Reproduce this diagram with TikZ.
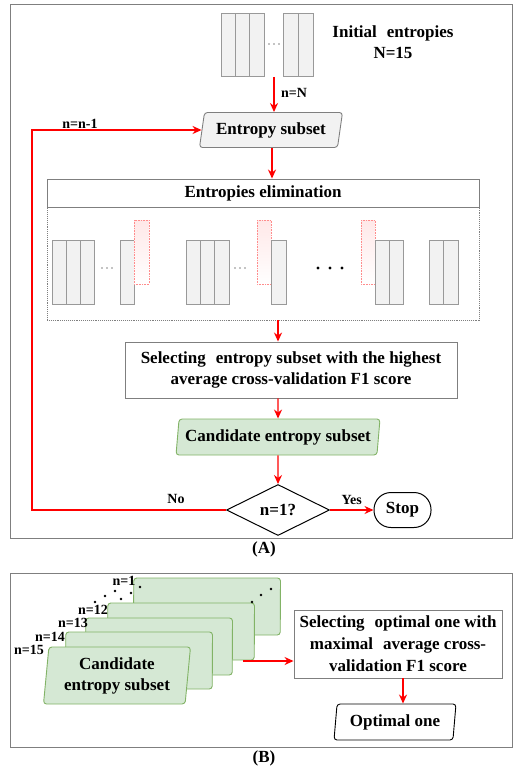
\documentclass[tikz,border=0pt]{standalone}
\usepackage{fontspec}
\setmainfont{Liberation Serif}
\usetikzlibrary{shapes.geometric,arrows.meta,calc}
\definecolor{framegray}{HTML}{7F7F7F}
\definecolor{colfill}{HTML}{F2F2F2}
\definecolor{coldraw}{HTML}{999999}
\definecolor{gfill}{HTML}{D5E8D4}
\definecolor{gdraw}{HTML}{82B366}
\definecolor{arrred}{HTML}{FF0000}
\newcommand\entcols[5]{% x, y, n, w, h
  \foreach \i in {1,...,#3}{\draw[colst] ({#1+(\i-1)*#4},#2) rectangle ++(#4,#5);}}
\newcommand\redghost[3]{% x, y, w
  \draw[ghost] (#1,#2) rectangle ++(#3,64);}
\begin{document}
\begin{tikzpicture}[x=1pt,y=-1pt,
  txt/.style={font=\bfseries\fontsize{17}{21}\selectfont},
  lbl/.style={font=\bfseries\fontsize{14}{16}\selectfont},
  frame/.style={draw=framegray, line width=1pt},
  colst/.style={draw=coldraw, fill=colfill, line width=0.8pt},
  ghost/.style={draw=red!45, densely dotted, line width=0.6pt, top color=red!9, bottom color=white},
  arr/.style={draw=arrred, line width=1.4pt, -{Stealth[length=9pt,width=8pt]}},
  para/.style={trapezium, trapezium stretches body, rounded corners=3pt, inner sep=1pt, line width=0.9pt},
  boxst/.style={draw=framegray, fill=white, line width=0.9pt, align=center, inner sep=2pt},
  smdot/.style={fill=black, circle, inner sep=0pt, minimum size=1.4pt},
  bigdot/.style={fill=black, circle, inner sep=0pt, minimum size=3.2pt}
]
\useasboundingbox (0,0) rectangle (529,770);
\fill[white] (0,0) rectangle (529,770);

% ---------------- Part A ----------------
\draw[frame] (10,5) rectangle (512,538);
\node[txt] (labA) at (264,549) {(A)};

% initial entropies
\entcols{221}{13}{3}{14.33}{63}
\entcols{283}{13}{2}{15}{63}
\foreach \k in {0,1,2} \node[smdot] (d0\k) at ({269+\k*5},44) {};
\node[txt, align=center] (initlbl) at (393,42) {Initial\,\, entropies\\N=15};
\coordinate (initbot) at (274,77);

\node[para, draw=framegray, fill=colfill, trapezium left angle=74, trapezium right angle=106,
      minimum width=143pt, minimum height=35pt, txt] (sub) at (271,130) {Entropy subset};
\draw[arr] (initbot) -- (initbot |- sub.north) node[lbl, pos=0.45, right=3pt] (nN) {n=N};

% elimination
\node[boxst, txt, minimum width=432pt, minimum height=28pt] (elimt) at (263,193) {Entropies elimination};
\node[draw=framegray, densely dotted, line width=0.9pt, minimum width=432pt, minimum height=113pt, inner sep=0pt] (elimb) at (263,263.5) {};
\draw[arr] (sub.south -| 272,0) -- (elimt.north -| 272,0);

% group 1
\entcols{52}{240}{3}{14}{64}
\foreach \k in {0,1,2} \node[smdot] (d1\k) at ({102+\k*5},268) {};
\entcols{120}{240}{1}{14}{64}
\redghost{134}{220}{15}
% group 2
\entcols{186}{240}{3}{14.33}{64}
\foreach \k in {0,1,2} \node[smdot] (d2\k) at ({235+\k*5},268) {};
\redghost{257}{220}{14}
\entcols{271}{240}{1}{15}{64}
% big dots
\foreach \k in {0,1,2} \node[bigdot] (d3\k) at ({318+\k*12},268) {};
% group 3
\redghost{361}{220}{14}
\entcols{375}{240}{2}{14}{64}
\entcols{429}{240}{2}{14.5}{64}

% selecting
\node[boxst, txt, minimum width=332pt, minimum height=56pt] (sel) at (291,370)
  {Selecting\,\, entropy subset with the highest\\average cross-validation F1 score};
\node[para, draw=gdraw, fill=gfill, trapezium left angle=80, trapezium right angle=100,
      minimum width=204pt, minimum height=36pt, txt] (cand) at (278,437) {Candidate entropy subset};
\draw[arr] (elimb.south -| cand) -- (sel.north -| cand);
\draw[arr] (sel.south -| cand) -- (cand.north);

\node[diamond, draw=black, fill=white, line width=1pt, minimum width=103pt, minimum height=51pt,
      inner sep=0pt, txt] (dia) at (278,510) {n=1?};
\draw[arr] (cand.south) -- (dia.north);

\node[draw=black, fill=white, line width=1pt, rounded corners=17pt, minimum width=57pt,
      minimum height=35pt, txt] (stop) at (402.5,510) {Stop};
\draw[arr] (dia.east) -- (stop.west) node[lbl, midway, above=1pt] (yes) {Yes};

\coordinate (loopc) at (32,510);
\draw[arr] (dia.west) -- (loopc) |- (sub.west);
\node[lbl] (no) at (176,499) {No};
\node[lbl] (nn1) at (80,124) {n=n-1};

% ---------------- Part B ----------------
\draw[frame] (10,573) rectangle (512,747);
\node[txt] (labB) at (264,758) {(B)};

\tikzset{bpara/.style={para, draw=gdraw, fill=gfill, trapezium left angle=82, trapezium right angle=98,
      minimum width=147pt, minimum height=57pt, txt, align=center}}
\node[bpara] (c1) at (207,606.5) {};
\node[bpara] (c12) at (181,631.5) {};
\node[bpara] (c13) at (159,646.5) {};
\node[bpara] (c14) at (139,660.5) {};
\node[bpara] (c15) at (117,675.5) {Candidate\\entropy subset};

\node[lbl] (l15) at (29,650) {n=15};
\node[lbl] (l14) at (50,637) {n=14};
\node[lbl] (l13) at (73,623) {n=13};
\node[lbl] (l12) at (93,610) {n=12};
\node[lbl] (l1) at (124,581) {n=1};

\foreach \p [count=\c] in {(95,602),(105,596),(115,591),(121,599),(131,593),(140,587),(252,602),(261,595),(271,589)}
  \node[bigdot, minimum size=2.6pt] (bd\c) at \p {};

\node[boxst, txt, minimum width=208pt, minimum height=68pt, font=\bfseries\fontsize{17}{22}\selectfont] (selB) at (398,644)
  {Selecting\,\, optimal one with\\maximal\,\, average cross-\\validation F1 score};
\coordinate (bstart) at (243,661);
\draw[arr] (bstart) -- (bstart -| selB.west);

\node[para, draw=black, fill=white, trapezium left angle=80, trapezium right angle=100,
      minimum width=122pt, minimum height=36pt, txt] (opt) at (395,722) {Optimal one};
\draw[arr] ([xshift=5pt]selB.south) -- ([xshift=5pt]selB.south |- opt.north);
\end{tikzpicture}
\end{document}
